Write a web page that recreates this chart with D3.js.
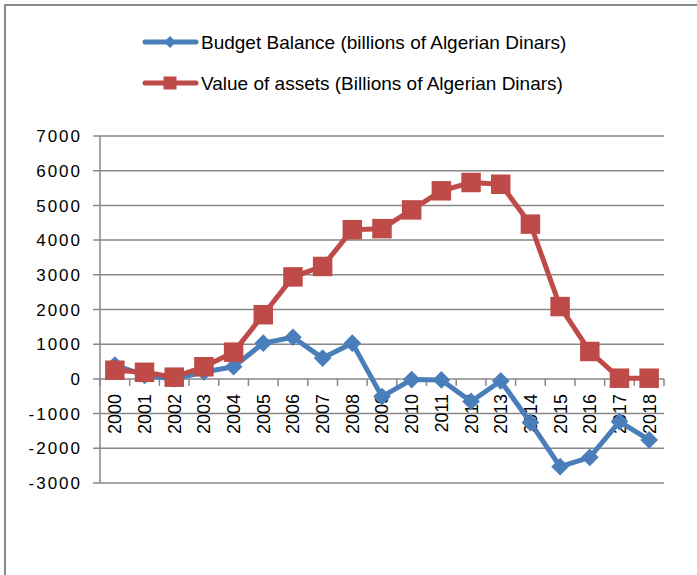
<!DOCTYPE html>
<html>
<head>
<meta charset="utf-8">
<script src="https://cdn.jsdelivr.net/npm/d3@7"></script>
<style>
body { margin: 0; background: #fff; }
svg { display: block; font-family: "Liberation Sans", Arial, sans-serif; }
</style>
</head>
<body>
<svg width="697" height="575"></svg>
<script>
// categories and values
var years = ["2000","2001","2002","2003","2004","2005","2006","2007","2008","2009",
             "2010","2011","2012","2013","2014","2015","2016","2017","2018"];
var budgetBalance = [400, 100, 0, 200, 350, 1030, 1200, 600, 1030, -510,
                     -20, -30, -650, -60, -1260, -2530, -2260, -1230, -1760];
var assetValue = [250, 190, 50, 350, 770, 1850, 2940, 3240, 4300, 4330,
                  4870, 5420, 5660, 5610, 4460, 2085, 790, 20, 20];
var yTicks = [-3000, -2000, -1000, 0, 1000, 2000, 3000, 4000, 5000, 6000, 7000];
var seriesNames = ["Budget Balance (billions of Algerian Dinars)",
                   "Value of assets (Billions of Algerian Dinars)"];

var blue = "#4a7ebb";
var red = "#be4b48";
var gridColor = "#878787";

var svg = d3.select("svg");

// outer chart frame (runs off the right and bottom of the picture)
svg.append("rect")
    .attr("x", 5).attr("y", 5)
    .attr("width", 900).attr("height", 900)
    .attr("fill", "none")
    .attr("stroke", "#8a8a8a")
    .attr("stroke-width", 2);

var plotLeft = 100, plotRight = 664, plotTop = 136, plotBottom = 483;

var y = d3.scaleLinear().domain([-3000, 7000]).range([plotBottom, plotTop]);
var xBand = d3.scaleBand().domain(years).range([plotLeft, plotRight]);
var x = function(d){ return xBand(d) + xBand.bandwidth() / 2 };

// gridlines + y axis ticks
svg.append("g").selectAll("line").data(yTicks).enter()
    .append("line")
    .attr("x1", plotLeft - 7).attr("x2", plotRight)
    .attr("y1", function(d){ return y(d) }).attr("y2", function(d){ return y(d) })
    .attr("stroke", gridColor).attr("stroke-width", 1.5);

svg.append("line")
    .attr("x1", plotLeft).attr("x2", plotLeft)
    .attr("y1", plotTop).attr("y2", plotBottom)
    .attr("stroke", gridColor).attr("stroke-width", 1.5);

svg.append("g").selectAll("text").data(yTicks).enter()
    .append("text")
    .attr("x", 82)
    .attr("y", function(d){ return y(d) })
    .attr("dy", "0.36em")
    .attr("text-anchor", "end")
    .attr("font-size", 17)
    .attr("letter-spacing", 2)
    .attr("fill", "#000")
    .text(function(d){ return d });

// x axis on the zero line, ticks between categories
var bounds = years.map(function(d){ return xBand(d) }).concat([plotRight]);
svg.append("g").selectAll("line").data(bounds).enter()
    .append("line")
    .attr("x1", function(d){ return d }).attr("x2", function(d){ return d })
    .attr("y1", y(0)).attr("y2", y(0) + 7)
    .attr("stroke", gridColor).attr("stroke-width", 1.5);

svg.append("g").selectAll("text").data(years).enter()
    .append("text")
    .attr("transform", function(d){ return "translate(" + x(d) + "," + (y(0) + 15) + ") rotate(-90)" })
    .attr("dy", "0.36em")
    .attr("text-anchor", "end")
    .attr("font-size", 18)
    .attr("fill", "#000")
    .text(function(d){ return d });

// series lines
var line = d3.line()
    .x(function(d, i){ return x(years[i]) })
    .y(function(d){ return y(d) });

var diamond = d3.symbol().type(d3.symbolDiamond2).size(200);
var square = d3.symbol().type(d3.symbolSquare).size(380);

svg.append("path").datum(budgetBalance)
    .attr("d", line).attr("fill", "none")
    .attr("stroke", blue).attr("stroke-width", 5)
    .attr("stroke-linejoin", "round");
svg.append("g").selectAll("path").data(budgetBalance).enter()
    .append("path")
    .attr("d", diamond)
    .attr("transform", function(d, i){ return "translate(" + x(years[i]) + "," + y(d) + ")" })
    .attr("fill", blue);

svg.append("path").datum(assetValue)
    .attr("d", line).attr("fill", "none")
    .attr("stroke", red).attr("stroke-width", 5)
    .attr("stroke-linejoin", "round");
svg.append("g").selectAll("path").data(assetValue).enter()
    .append("path")
    .attr("d", square)
    .attr("transform", function(d, i){ return "translate(" + x(years[i]) + "," + y(d) + ")" })
    .attr("fill", red);

// legend
var legendY = [42, 83];
var legendColors = [blue, red];
var legendShapes = [d3.symbol().type(d3.symbolDiamond2).size(90), d3.symbol().type(d3.symbolSquare).size(170)];
seriesNames.forEach(function(name, i){
    var g = svg.append("g").attr("transform", "translate(0," + legendY[i] + ")");
    g.append("line")
        .attr("x1", 145).attr("x2", 196)
        .attr("stroke", legendColors[i]).attr("stroke-width", 5)
        .attr("stroke-linecap", "round");
    g.append("path")
        .attr("d", legendShapes[i])
        .attr("transform", "translate(170,0)")
        .attr("fill", legendColors[i]);
    g.append("text")
        .attr("x", 201)
        .attr("dy", "0.36em")
        .attr("font-size", 19)
        .attr("fill", "#000")
        .text(name);
});
</script>
</body>
</html>
